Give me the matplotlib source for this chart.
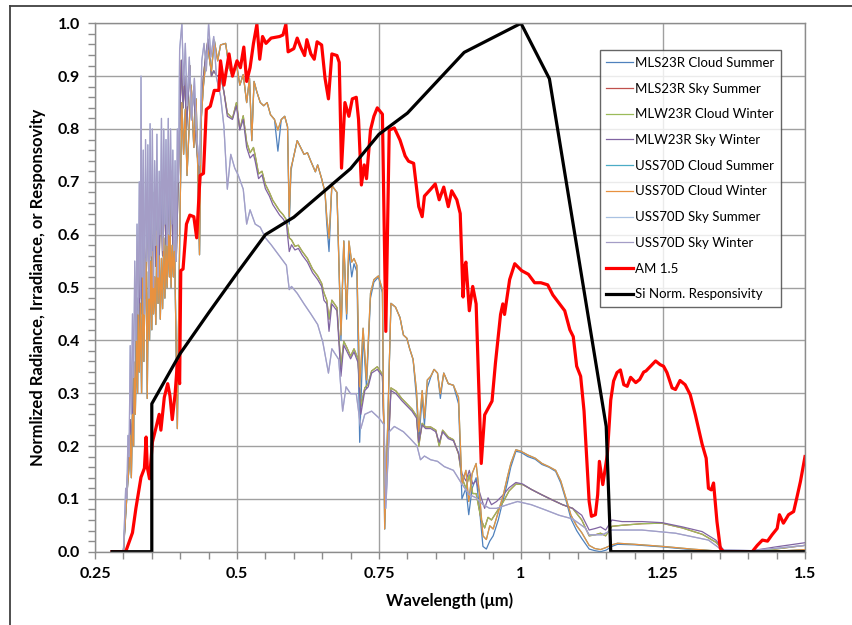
import matplotlib
matplotlib.use("Agg")
import matplotlib.pyplot as plt
from matplotlib.lines import Line2D
from matplotlib.ticker import MultipleLocator, FixedLocator, FixedFormatter, FormatStrFormatter

plt.rcParams['font.family'] = ['Lato', 'DejaVu Sans']

# ---------------- data ----------------
# --- Group A: cloud spectra (upper curves) ---
# UV part, shared by the three cloud series that coincide there
wl_a_uv = [0.29, 0.300, 0.304, 0.307, 0.310, 0.312, 0.314, 0.316, 0.318, 0.319,
           0.321, 0.323, 0.325, 0.326, 0.328, 0.330, 0.332, 0.334, 0.336, 0.338,
           0.340, 0.342, 0.344, 0.346, 0.348, 0.350, 0.351, 0.353, 0.355, 0.357,
           0.359, 0.361, 0.363, 0.365, 0.367, 0.369, 0.371, 0.373, 0.375, 0.377,
           0.379, 0.381, 0.382, 0.384, 0.386, 0.388, 0.390, 0.392, 0.394, 0.395,
           0.397]
cloud_a_uv = [0, 0, 0.069, 0.12, 0.16, 0.22, 0.14, 0.26, 0.20, 0.358,
              0.26, 0.40, 0.30, 0.456, 0.34, 0.47, 0.30, 0.52, 0.36, 0.50,
              0.555, 0.29, 0.53, 0.40, 0.55, 0.42, 0.568, 0.45, 0.52, 0.43,
              0.607, 0.47, 0.56, 0.44, 0.555, 0.46, 0.594, 0.48, 0.58, 0.50,
              0.60, 0.52, 0.627, 0.50, 0.58, 0.52, 0.588, 0.45, 0.30, 0.233,
              0.423]

wl_a = [0.400, 0.403,
        0.406, 0.409, 0.412, 0.415, 0.419, 0.424, 0.428, 0.431, 0.434, 0.437,
        0.441, 0.444, 0.449, 0.455, 0.460, 0.466, 0.471, 0.480, 0.486, 0.492,
        0.499, 0.505, 0.511, 0.517, 0.522, 0.526, 0.530, 0.535, 0.541, 0.547,
        0.553, 0.559, 0.566, 0.572, 0.578, 0.584, 0.589, 0.592, 0.595, 0.598,
        0.606, 0.612, 0.618, 0.624, 0.630, 0.638, 0.642, 0.649, 0.655, 0.658,
        0.662, 0.667, 0.676, 0.683, 0.688, 0.693, 0.697, 0.702, 0.706, 0.711,
        0.716, 0.722, 0.728, 0.735, 0.741, 0.749, 0.756, 0.760, 0.765, 0.771,
        0.779, 0.787, 0.793, 0.799, 0.804, 0.810, 0.816, 0.820, 0.826, 0.830,
        0.835, 0.841, 0.847, 0.853, 0.858, 0.864, 0.872, 0.881, 0.890, 0.896,
        0.903, 0.908, 0.914, 0.921, 0.927, 0.933, 0.939, 0.945, 0.951, 0.960,
        0.969, 0.976, 0.982, 0.991, 1.000, 1.012, 1.025, 1.037, 1.049, 1.061,
        1.070, 1.079, 1.088, 1.098, 1.107, 1.120, 1.130, 1.140, 1.150, 1.160,
        1.170, 1.200, 1.250, 1.300, 1.350, 1.400, 1.450, 1.500]

uss70d_cloud_winter = [
    0.66, 0.85,
    0.752, 0.837, 0.712, 0.785, 0.883, 0.765, 0.857, 0.719, 0.562, 0.818,
    0.883, 0.916, 0.949, 0.91, 0.968, 0.929, 0.959, 0.962, 0.916, 0.9,
    0.923, 0.883, 0.903, 0.85, 0.896, 0.778, 0.89, 0.87, 0.85, 0.844,
    0.85, 0.827, 0.818, 0.798, 0.818, 0.824, 0.804, 0.634, 0.726, 0.739,
    0.778, 0.765, 0.752, 0.755, 0.739, 0.719, 0.732, 0.706, 0.68, 0.634,
    0.593, 0.693, 0.68, 0.41, 0.588, 0.45, 0.588, 0.548, 0.555, 0.542,
    0.312, 0.423, 0.325, 0.489, 0.515, 0.522, 0.496, 0.043, 0.227, 0.47,
    0.463, 0.443, 0.41, 0.404, 0.384, 0.364, 0.305, 0.227, 0.305, 0.253,
    0.325, 0.332, 0.345, 0.338, 0.299, 0.338, 0.318, 0.315, 0.292, 0.128,
    0.154, 0.095, 0.148, 0.167, 0.108, 0.03, 0.023, 0.049, 0.043, 0.075,
    0.108, 0.141, 0.167, 0.193, 0.19, 0.183, 0.177, 0.167, 0.161, 0.154,
    0.134, 0.102, 0.069, 0.049, 0.036, 0.012, 0.006, 0.004, 0.008, 0.013,
    0.016, 0.014, 0.010, 0.005, 0.001, 0.0, 0.001, 0.004]

mls23r_cloud_summer = [
    0.66, 0.85,
    0.752, 0.837, 0.712, 0.785, 0.883, 0.765, 0.857, 0.719, 0.562, 0.818,
    0.883, 0.916, 0.949, 0.91, 0.968, 0.929, 0.959, 0.962, 0.916, 0.9,
    0.923, 0.883, 0.903, 0.85, 0.896, 0.778, 0.89, 0.87, 0.85, 0.844,
    0.85, 0.827, 0.818, 0.758, 0.818, 0.824, 0.804, 0.62, 0.72, 0.739,
    0.778, 0.765, 0.752, 0.755, 0.739, 0.719, 0.732, 0.706, 0.68, 0.62,
    0.568, 0.693, 0.68, 0.40, 0.588, 0.44, 0.57, 0.52, 0.545, 0.53,
    0.207, 0.41, 0.31, 0.48, 0.51, 0.52, 0.49, 0.043, 0.227, 0.47,
    0.463, 0.443, 0.41, 0.404, 0.384, 0.364, 0.29, 0.21, 0.29, 0.24,
    0.31, 0.33, 0.345, 0.338, 0.29, 0.338, 0.318, 0.315, 0.28, 0.10,
    0.12, 0.07, 0.12, 0.14, 0.08, 0.01, 0.005, 0.02, 0.03, 0.06,
    0.10, 0.13, 0.16, 0.19, 0.188, 0.18, 0.175, 0.165, 0.16, 0.152,
    0.13, 0.098, 0.062, 0.04, 0.025, 0.005, 0.002, 0.0, 0.003, 0.01,
    0.014, 0.013, 0.009, 0.004, 0.001, 0.0, 0.001, 0.003]

uss70d_cloud_summer = list(uss70d_cloud_winter)

# --- Group B: middle curves ---
wl_b_uv = [0.29, 0.300, 0.303, 0.306, 0.309, 0.312, 0.315, 0.318, 0.321, 0.324,
           0.327, 0.330, 0.333, 0.336, 0.339, 0.342, 0.345, 0.348, 0.351, 0.354,
           0.357, 0.360, 0.363, 0.366, 0.369, 0.372, 0.375, 0.378, 0.381, 0.384,
           0.387, 0.390, 0.393, 0.396, 0.399, 0.402, 0.405, 0.408, 0.411, 0.414,
           0.417, 0.420, 0.424, 0.428, 0.431, 0.434, 0.437, 0.441, 0.444, 0.449,
           0.455, 0.459, 0.465, 0.471]
mid_b_uv = [0, 0, 0.06, 0.12, 0.18, 0.25, 0.20, 0.36, 0.30, 0.48,
            0.38, 0.58, 0.45, 0.62, 0.48, 0.66, 0.50, 0.64, 0.52, 0.68,
            0.54, 0.66, 0.55, 0.70, 0.56, 0.68, 0.58, 0.70, 0.60, 0.72,
            0.58, 0.70, 0.55, 0.68, 0.80, 0.93, 0.84, 0.90, 0.80, 0.86,
            0.92, 0.82, 0.88, 0.78, 0.74, 0.66, 0.84, 0.90, 0.93, 0.97,
            0.90, 0.91, 0.90, 0.903]

wl_b = [0.477, 0.483, 0.492, 0.499, 0.505, 0.511, 0.517, 0.523, 0.529, 0.532,
        0.538, 0.544, 0.550, 0.557, 0.563, 0.569, 0.575, 0.581, 0.587, 0.592,
        0.596, 0.602, 0.608, 0.615, 0.624, 0.633, 0.642, 0.649, 0.653, 0.658,
        0.662, 0.667, 0.676, 0.683, 0.688, 0.694, 0.700, 0.706, 0.713, 0.718,
        0.725, 0.731, 0.737, 0.747, 0.756, 0.762, 0.767, 0.771, 0.780, 0.790,
        0.799, 0.808, 0.816, 0.820, 0.826, 0.832, 0.841, 0.850, 0.856, 0.862,
        0.872, 0.881, 0.890, 0.896, 0.903, 0.909, 0.915, 0.921, 0.930, 0.936,
        0.942, 0.948, 0.957, 0.969, 0.979, 0.991, 1.003, 1.018, 1.036, 1.055,
        1.073, 1.091, 1.107, 1.120, 1.131, 1.140, 1.149, 1.160, 1.178, 1.213,
        1.248, 1.284, 1.319, 1.343, 1.357, 1.407, 1.448, 1.500]

mlw23r_sky_winter = [
    0.87, 0.824, 0.818, 0.844, 0.798, 0.818, 0.765, 0.745, 0.752, 0.739,
    0.706, 0.713, 0.687, 0.673, 0.657, 0.647, 0.637, 0.63, 0.62, 0.568,
    0.581, 0.571, 0.574, 0.561, 0.548, 0.528, 0.515, 0.502, 0.476, 0.469,
    0.417, 0.469, 0.456, 0.332, 0.391, 0.378, 0.365, 0.378, 0.358, 0.26,
    0.305, 0.312, 0.338, 0.345, 0.332, 0.095, 0.207, 0.305, 0.299, 0.286,
    0.276, 0.266, 0.253, 0.207, 0.24, 0.233, 0.233, 0.227, 0.207, 0.227,
    0.214, 0.21, 0.187, 0.148, 0.134, 0.154, 0.128, 0.134, 0.102, 0.082,
    0.102, 0.089, 0.095, 0.108, 0.121, 0.131, 0.128, 0.118, 0.108, 0.098,
    0.089, 0.082, 0.069, 0.041, 0.044, 0.047, 0.041, 0.06, 0.057, 0.057,
    0.055, 0.047, 0.038, 0.022, 0.003, 0.002, 0.009, 0.017]

mlw23r_cloud_winter = [
    0.87, 0.83, 0.82, 0.85, 0.80, 0.825, 0.775, 0.755, 0.765, 0.75,
    0.715, 0.72, 0.695, 0.68, 0.665, 0.655, 0.645, 0.638, 0.628, 0.594,
    0.59, 0.578, 0.58, 0.568, 0.555, 0.535, 0.522, 0.508, 0.49, 0.476,
    0.44, 0.476, 0.462, 0.35, 0.398, 0.385, 0.37, 0.384, 0.365, 0.275,
    0.31, 0.318, 0.342, 0.35, 0.336, 0.11, 0.215, 0.31, 0.304, 0.29,
    0.28, 0.27, 0.257, 0.2, 0.243, 0.236, 0.236, 0.23, 0.2, 0.23,
    0.217, 0.212, 0.185, 0.14, 0.12, 0.145, 0.11, 0.11, 0.06, 0.045,
    0.065, 0.06, 0.075, 0.095, 0.115, 0.128, 0.127, 0.118, 0.108, 0.098,
    0.089, 0.082, 0.06, 0.03, 0.032, 0.035, 0.03, 0.048, 0.05, 0.053,
    0.054, 0.045, 0.033, 0.018, 0.002, 0.001, 0.005, 0.012]

mls23r_sky_summer = list(mlw23r_cloud_winter)

# --- Group C: lowest curves ---
wl_c = [0.29, 0.300, 0.302, 0.304, 0.306, 0.308, 0.310, 0.312, 0.314, 0.316,
        0.318, 0.320, 0.322, 0.324, 0.326, 0.328, 0.330, 0.331, 0.333, 0.335,
        0.337, 0.339, 0.341, 0.343, 0.345, 0.347, 0.349, 0.351, 0.353, 0.355,
        0.357, 0.359, 0.361, 0.363, 0.365, 0.367, 0.369, 0.371, 0.373, 0.375,
        0.377, 0.379, 0.381, 0.383, 0.385, 0.387, 0.389, 0.391, 0.393, 0.395,
        0.397, 0.399, 0.403, 0.406, 0.409, 0.412, 0.416, 0.420, 0.425,
        0.429, 0.434, 0.438, 0.442, 0.446, 0.450, 0.454, 0.459, 0.464, 0.471,
        0.477, 0.483, 0.489, 0.496, 0.502, 0.511, 0.517, 0.523, 0.532, 0.541,
        0.550, 0.560, 0.569, 0.578, 0.587, 0.592, 0.596, 0.606, 0.618, 0.630,
        0.642, 0.651, 0.661, 0.667, 0.679, 0.686, 0.692, 0.700, 0.710, 0.718,
        0.725, 0.737, 0.750, 0.759, 0.762, 0.768, 0.777, 0.793, 0.805, 0.817,
        0.823, 0.830, 0.841, 0.853, 0.865, 0.881, 0.896, 0.909, 0.921, 0.933,
        0.945, 0.957, 0.976, 0.994, 1.018, 1.043, 1.067, 1.091, 1.113, 1.120,
        1.143, 1.160, 1.213, 1.272, 1.330, 1.354, 1.407, 1.500]

uss70d_sky_winter = [
    0, 0.0, 0.06, 0.12, 0.10, 0.22, 0.18, 0.39, 0.26, 0.45,
    0.33, 0.55, 0.40, 0.62, 0.45, 0.70, 0.48, 0.90, 0.52, 0.76,
    0.45, 0.78, 0.55, 0.77, 0.48, 0.81, 0.56, 0.80, 0.50, 0.74,
    0.58, 0.79, 0.52, 0.72, 0.60, 0.82, 0.57, 0.80, 0.62, 0.78,
    0.58, 0.82, 0.60, 0.80, 0.62, 0.76, 0.57, 0.74, 0.55, 0.80,
    0.70, 0.95, 1.0, 0.883, 0.962, 0.844, 0.936, 0.817, 0.896,
    0.785, 0.732, 0.929, 0.962, 0.91, 1.0, 0.936, 0.975, 0.896, 0.863,
    0.804, 0.686, 0.752, 0.726, 0.713, 0.686, 0.62, 0.647, 0.62, 0.614,
    0.594, 0.581, 0.568, 0.555, 0.542, 0.496, 0.502, 0.489, 0.469, 0.45,
    0.43, 0.397, 0.338, 0.384, 0.364, 0.266, 0.312, 0.299, 0.299, 0.233,
    0.26, 0.266, 0.253, 0.24, 0.082, 0.227, 0.237, 0.227, 0.214, 0.2,
    0.174, 0.181, 0.174, 0.171, 0.161, 0.154, 0.128, 0.108, 0.102, 0.089,
    0.082, 0.082, 0.089, 0.095, 0.089, 0.079, 0.069, 0.062, 0.045, 0.032,
    0.032, 0.041, 0.041, 0.035, 0.022, 0.003, 0.002, 0.012]

uss70d_sky_summer = list(uss70d_sky_winter)

# --- AM 1.5 solar irradiance (normalized) ---
wl_am15 = [0.28, 0.300, 0.304, 0.316, 0.322, 0.331, 0.337, 0.340, 0.342, 0.346,
           0.351, 0.357, 0.363, 0.366, 0.372, 0.378, 0.382, 0.386, 0.391, 0.395,
           0.399, 0.401, 0.405, 0.411, 0.417, 0.424, 0.429, 0.435, 0.441, 0.446,
           0.453, 0.460, 0.468, 0.471, 0.477, 0.486, 0.492, 0.500, 0.506, 0.512,
           0.517, 0.523, 0.529, 0.535, 0.540, 0.545, 0.551, 0.560, 0.575, 0.581,
           0.586, 0.590, 0.600, 0.606, 0.612, 0.619, 0.623, 0.630, 0.636, 0.641,
           0.649, 0.655, 0.661, 0.667, 0.676, 0.680, 0.684, 0.690, 0.697, 0.703,
           0.710, 0.714, 0.719, 0.724, 0.728, 0.735, 0.741, 0.747, 0.756, 0.762,
           0.768, 0.777, 0.787, 0.796, 0.802, 0.811, 0.820, 0.826, 0.830, 0.841,
           0.849, 0.856, 0.864, 0.872, 0.878, 0.887, 0.893, 0.898, 0.901, 0.903,
           0.909, 0.915, 0.921, 0.930, 0.936, 0.949, 0.955, 0.964, 0.968, 0.971,
           0.980, 0.989, 1.001, 1.013, 1.024, 1.035, 1.047, 1.056, 1.068, 1.077,
           1.086, 1.092, 1.098, 1.105, 1.111, 1.120, 1.124, 1.131, 1.135, 1.138,
           1.144, 1.152, 1.158, 1.163, 1.169, 1.175, 1.181, 1.187, 1.193, 1.202,
           1.209, 1.216, 1.220, 1.228, 1.237, 1.245, 1.251, 1.257, 1.266, 1.272,
           1.280, 1.289, 1.298, 1.307, 1.319, 1.326, 1.330, 1.335, 1.339, 1.345,
           1.351, 1.357, 1.407, 1.416, 1.425, 1.434, 1.442, 1.451, 1.455, 1.462,
           1.471, 1.480, 1.486, 1.492, 1.500]
am15 = [0, 0, 0.0, 0.036, 0.082, 0.141, 0.158, 0.217, 0.16, 0.138,
        0.207, 0.233, 0.26, 0.23, 0.292, 0.318, 0.295, 0.25, 0.298, 0.358,
        0.318, 0.532, 0.535, 0.62, 0.637, 0.634, 0.594, 0.712, 0.716, 0.837,
        0.843, 0.873, 0.873, 0.929, 0.883, 0.942, 0.9, 0.929, 0.916, 0.955,
        0.89, 0.916, 0.962, 0.998, 0.932, 0.975, 0.962, 0.972, 0.975, 0.978,
        0.998, 0.946, 0.952, 0.972, 0.955, 0.939, 0.969, 0.942, 0.932, 0.965,
        0.959, 0.896, 0.857, 0.942, 0.939, 0.926, 0.726, 0.85, 0.824, 0.857,
        0.86, 0.818, 0.694, 0.732, 0.706, 0.798, 0.824, 0.84, 0.828, 0.417,
        0.798, 0.802, 0.779, 0.749, 0.739, 0.735, 0.653, 0.634, 0.673, 0.686,
        0.696, 0.666, 0.69, 0.653, 0.683, 0.666, 0.64, 0.482, 0.541, 0.548,
        0.456, 0.502, 0.469, 0.167, 0.259, 0.285, 0.357, 0.449, 0.469, 0.449,
        0.515, 0.545, 0.532, 0.525, 0.509, 0.509, 0.505, 0.486, 0.469, 0.456,
        0.42, 0.407, 0.351, 0.332, 0.266, 0.095, 0.067, 0.07, 0.108, 0.171,
        0.127, 0.184, 0.287, 0.323, 0.339, 0.344, 0.316, 0.313, 0.33, 0.32,
        0.326, 0.34, 0.342, 0.351, 0.361, 0.354, 0.351, 0.339, 0.31, 0.307,
        0.324, 0.316, 0.297, 0.259, 0.203, 0.177, 0.12, 0.117, 0.13, 0.057,
        0.006, 0.0, 0.0, 0.012, 0.022, 0.02, 0.032, 0.044, 0.07, 0.054,
        0.07, 0.076, 0.104, 0.133, 0.18]

# --- Si normalized responsivity ---
wl_si = [0.28, 0.35, 0.35, 0.40, 0.45, 0.50, 0.55, 0.60, 0.70, 0.75,
         0.80, 0.90, 1.00, 1.05, 1.15, 1.158, 1.50]
si_resp = [0.0, 0.0, 0.28, 0.375, 0.452, 0.527, 0.60, 0.633, 0.725, 0.79,
           0.83, 0.945, 1.0, 0.895, 0.237, 0.0, 0.0]

# (name, uv wavelengths, uv values, wavelengths, values, colour) in Excel drawing order
series = [
    ("MLS23R Cloud Summer", wl_a_uv, cloud_a_uv, wl_a, mls23r_cloud_summer, '#4F81BD'),
    ("MLS23R Sky Summer", wl_b_uv, mid_b_uv, wl_b, mls23r_sky_summer, '#C0504D'),
    ("MLW23R Cloud Winter", wl_b_uv, mid_b_uv, wl_b, mlw23r_cloud_winter, '#9BBB59'),
    ("MLW23R Sky Winter", wl_b_uv, mid_b_uv, wl_b, mlw23r_sky_winter, '#8064A2'),
    ("USS70D Cloud Summer", wl_a_uv, cloud_a_uv, wl_a, uss70d_cloud_summer, '#4BACC6'),
    ("USS70D Cloud Winter", wl_a_uv, cloud_a_uv, wl_a, uss70d_cloud_winter, '#E8913F'),
    ("USS70D Sky Summer", [], [], wl_c, uss70d_sky_summer, '#A9C2E2'),
    ("USS70D Sky Winter", [], [], wl_c, uss70d_sky_winter, '#A49DC6'),
]

for s in series:
    assert len(s[1]) == len(s[2]), s[0]
    assert len(s[3]) == len(s[4]), s[0]
assert len(wl_am15) == len(am15)
assert len(wl_si) == len(si_resp)

# ---------------- plot ----------------
fig = plt.figure(figsize=(8.53, 6.25), dpi=100)
ax = fig.add_axes([95/853, 1-551.7/625, 710/853, 528.4/625])

for name, xu, yu, x, y, c in series:
    ax.plot(list(xu) + list(x), list(yu) + list(y), color=c, lw=0.9, label=name,
            solid_joinstyle='round')
ax.plot(wl_am15, am15, color='#FF0000', lw=2.3, label='AM 1.5', solid_joinstyle='round')
ax.plot(wl_si, si_resp, color='black', lw=2.3, label='Si Norm. Responsivity',
        solid_joinstyle='round')

ax.set_xlim(0.25, 1.5)
ax.set_ylim(0, 1.0)
ax.xaxis.set_major_locator(FixedLocator([0.25, 0.5, 0.75, 1.0, 1.25, 1.5]))
ax.xaxis.set_major_formatter(FixedFormatter(['0.25', '0.5', '0.75', '1', '1.25', '1.5']))
ax.xaxis.set_minor_locator(MultipleLocator(0.05))
ax.yaxis.set_major_locator(MultipleLocator(0.1))
ax.yaxis.set_major_formatter(FormatStrFormatter('%.1f'))
ax.yaxis.set_minor_locator(MultipleLocator(0.02))

ax.grid(True, which='major', color='#A0A0A0', lw=1.0)
ax.set_axisbelow(True)
for sp in ax.spines.values():
    sp.set_color('#8C8C8C')
    sp.set_linewidth(1.0)

ax.tick_params(which='both', direction='out', color='#8C8C8C', length=5, width=1)
ax.tick_params(axis='both', which='major', labelsize=11.5, pad=6)
for lab in ax.get_xticklabels() + ax.get_yticklabels():
    lab.set_fontweight('bold')

ax.set_xlabel('Wavelength (\u03bcm)', fontsize=12, fontweight='bold', labelpad=8)
ax.set_ylabel('Normlized Radiance, Irradiance, or Responsovity', fontsize=12,
              fontweight='bold', labelpad=8)

leg = ax.legend(loc='upper left', bbox_to_anchor=(0.711, 0.949), fontsize=9.5,
                frameon=True, fancybox=False, edgecolor='#404040', handlelength=2.0,
                handletextpad=0.15, labelspacing=1.04, borderpad=0.5, borderaxespad=0)
leg.get_frame().set_linewidth(1.0)

# outer chart-area border (left and top edges visible)
fig.add_artist(Line2D([9.5/853, 9.5/853], [0, 1-6/625], transform=fig.transFigure,
                      color='#404040', lw=1.3))
fig.add_artist(Line2D([9.5/853, 1], [1-6/625, 1-6/625], transform=fig.transFigure,
                      color='#404040', lw=1.3))

fig.savefig('out.png', dpi=100)
